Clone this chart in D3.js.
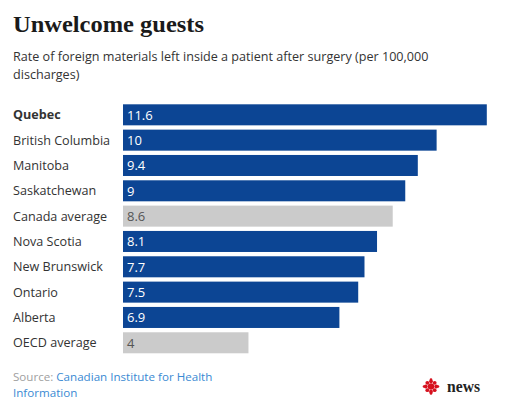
<!DOCTYPE html>
<html><head><meta charset="utf-8">
<script src="https://cdn.jsdelivr.net/npm/d3@7"></script>
<style>
html,body{margin:0;padding:0;background:#fff;}
svg{display:block;}
</style></head>
<body>
<script>
const categories = ["Quebec","British Columbia","Manitoba","Saskatchewan","Canada average","Nova Scotia","New Brunswick","Ontario","Alberta","OECD average"];
const values = [11.6,10,9.4,9,8.6,8.1,7.7,7.5,6.9,4];
const isAverage = [false,false,false,false,true,false,false,false,false,true];
const valueLabels = ["11.6","10","9.4","9","8.6","8.1","7.7","7.5","6.9","4"];

const W = 507, H = 419;
const svg = d3.select("body").append("svg").attr("width", W).attr("height", H);

const title = svg.append("text").attr("x", 13).attr("y", 31.5)
  .attr("font-family", "Liberation Serif, serif").attr("font-weight", "bold")
  .attr("font-size", 24).attr("fill", "#1a1a1a").text("Unwelcome guests");
title.attr("textLength", 191).attr("lengthAdjust", "spacingAndGlyphs");

const sub = svg.append("g").attr("font-family", "Open Sans, sans-serif").attr("font-size", 12.6).attr("fill", "#333");
sub.append("text").attr("x", 13).attr("y", 61).text("Rate of foreign materials left inside a patient after surgery (per 100,000");
sub.append("text").attr("x", 13).attr("y", 78.5).text("discharges)");

const x = d3.scaleLinear().domain([0, 11.6]).range([123, 486.8]);
const y = d3.scaleBand().domain(categories).range([102.15, 102.15 + 25.33 * 10]).paddingInner(0.17).paddingOuter(0.085);

const rows = svg.append("g").selectAll("g").data(categories).join("g");
rows.append("rect")
  .attr("x", x(0)).attr("y", d => y(d))
  .attr("width", (d,i) => x(values[i]) - x(0)).attr("height", y.bandwidth())
  .attr("fill", (d,i) => isAverage[i] ? "#cbcbcb" : "#0c4594");
rows.append("text")
  .attr("x", 13).attr("y", d => y(d) + y.bandwidth()/2 + 4.5)
  .attr("font-family", "Open Sans, sans-serif").attr("font-size", 12.6)
  .attr("font-weight", (d,i) => i === 0 ? "bold" : "normal")
  .attr("fill", "#333").text(d => d);
rows.append("text")
  .attr("x", x(0) + 4).attr("y", d => y(d) + y.bandwidth()/2 + 5)
  .attr("font-family", "Open Sans, sans-serif").attr("font-size", 13)
  .attr("fill", (d,i) => isAverage[i] ? "#555" : "#fff").text((d,i) => valueLabels[i]);

const src = svg.append("g").attr("font-family", "Open Sans, sans-serif").attr("font-size", 11.6);
const t1 = src.append("text").attr("x", 13).attr("y", 381);
t1.append("tspan").attr("fill", "#a0a0a0").text("Source: ");
t1.append("tspan").attr("fill", "#3a8ad3").text("Canadian Institute for Health");
src.append("text").attr("x", 13).attr("y", 396.5).attr("fill", "#3a8ad3").text("Information");

// CBC gem
const gem = svg.append("g").attr("transform", "translate(431,386.5)").attr("fill", "#d6121f");
gem.append("circle").attr("r", 3.2);
const angles = d3.range(8).map(i => i * Math.PI / 4);
angles.forEach(a => {
  gem.append("circle").attr("cx", Math.cos(a) * 5.2).attr("cy", Math.sin(a) * 5.2).attr("r", 1.9);
});
[[-7,0],[7,0],[0,-7],[0,7]].forEach(p => gem.append("circle").attr("cx", p[0]).attr("cy", p[1]).attr("r", 1.3));
svg.append("text").attr("x", 447).attr("y", 391.5)
  .attr("font-family", "Liberation Serif, serif").attr("font-weight", "bold")
  .attr("font-size", 16).attr("fill", "#222").attr("textLength", 33).attr("lengthAdjust", "spacingAndGlyphs").text("news");
</script>
</body></html>
